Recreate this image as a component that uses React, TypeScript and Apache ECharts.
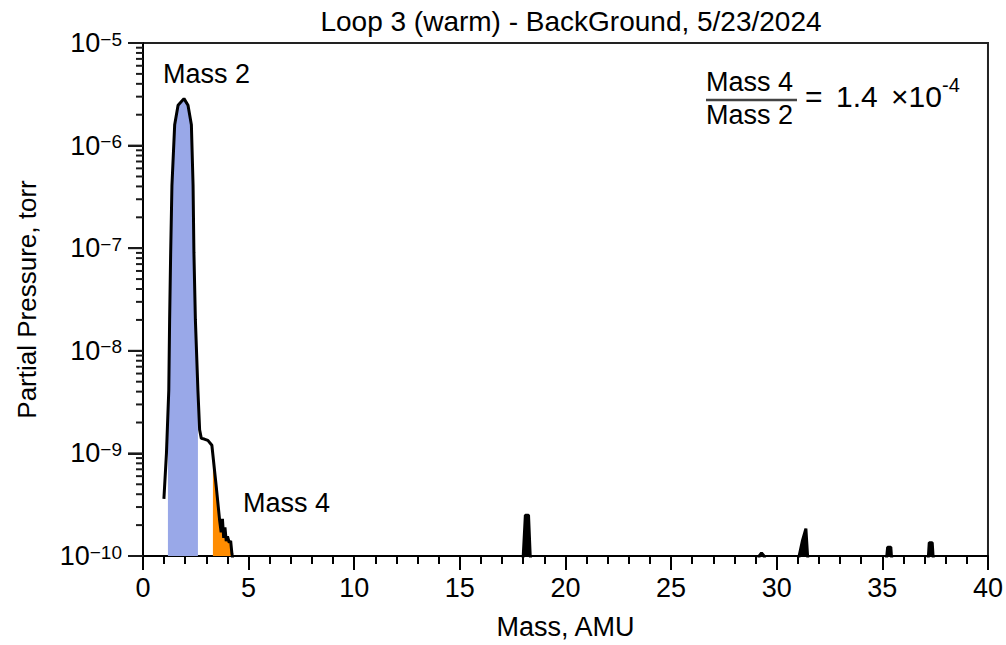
import React, { useEffect, useRef } from 'react';
import * as echarts from 'echarts';

const TITLE = 'Loop 3 (warm) - BackGround, 5/23/2024';
const X_NAME = 'Mass, AMU';
const Y_NAME = 'Partial Pressure, torr';

const X_MIN = 0;
const X_MAX = 40;
const X_STEP = 5;
const Y_MIN = 1e-10;
const Y_MAX = 1e-5;
const DECADES = [-10, -9, -8, -7, -6, -5];
const MINOR_MULTS = [2, 3, 4, 5, 6, 7, 8, 9];

// main Mass 2 / Mass 4 structure
const massMain = [0.99, 1.11, 1.22, 1.26, 1.31, 1.37, 1.5, 1.66, 1.94, 2.13, 2.29, 2.37, 2.41, 2.48, 2.6, 2.68, 2.76, 2.9, 3.07, 3.26, 3.47, 3.63, 3.7, 3.76, 3.82, 3.88, 3.94, 4.0, 4.08, 4.15, 4.21, 4.3];
const pressMain = [3.6e-10, 1.0e-9, 4.1e-9, 2.0e-8, 9.1e-8, 4.1e-7, 1.6e-6, 2.47e-6, 2.87e-6, 2.47e-6, 1.6e-6, 4.1e-7, 9.1e-8, 2.0e-8, 4.1e-9, 1.7e-9, 1.4e-9, 1.38e-9, 1.34e-9, 1.2e-9, 4.7e-10, 2.2e-10, 1.7e-10, 2.3e-10, 1.5e-10, 1.9e-10, 1.4e-10, 1.55e-10, 1.35e-10, 1.4e-10, 1.05e-10, 8e-11];

// small peaks at higher masses
const massPeaks = [4.3, 17.95, 18.0, 18.1, 18.25, 18.33, 18.4, 29.1, 29.17, 29.28, 29.4, 29.5, 31.0, 31.06, 31.22, 31.38, 31.46, 31.52, 35.15, 35.21, 35.25, 35.4, 35.43, 35.5, 37.12, 37.18, 37.22, 37.36, 37.4, 37.46, 40];
const pressPeaks = [8e-11, 8e-11, 1.0e-10, 2.5e-10, 2.5e-10, 1.0e-10, 8e-11, 8e-11, 1.0e-10, 1.07e-10, 1.0e-10, 8e-11, 8e-11, 1.0e-10, 1.42e-10, 1.85e-10, 1.0e-10, 8e-11, 8e-11, 1.0e-10, 1.22e-10, 1.22e-10, 1.0e-10, 8e-11, 8e-11, 1.0e-10, 1.35e-10, 1.35e-10, 1.0e-10, 8e-11, 8e-11];

// shaded Mass 2 integration region
const massBlue = [1.18, 1.22, 1.26, 1.31, 1.37, 1.5, 1.66, 1.94, 2.13, 2.29, 2.37, 2.41, 2.48, 2.6];
const pressBlue = [2.6e-9, 4.1e-9, 2.0e-8, 9.1e-8, 4.1e-7, 1.6e-6, 2.47e-6, 2.87e-6, 2.47e-6, 1.6e-6, 4.1e-7, 9.1e-8, 2.0e-8, 4.1e-9];

// shaded Mass 4 integration region
const massOrange = [3.31, 3.47, 3.63, 3.7, 3.76, 3.82, 3.88, 3.94, 4.0, 4.08, 4.15, 4.21];
const pressOrange = [1.0e-9, 4.7e-10, 2.2e-10, 1.7e-10, 2.3e-10, 1.5e-10, 1.9e-10, 1.4e-10, 1.55e-10, 1.35e-10, 1.4e-10, 1.05e-10];

const FONT = '"Liberation Sans", Arial, Helvetica, sans-serif';
const TICK_COLOR = '#1b1b1b';

const zip = (xs: number[], ys: number[]) => xs.map((x, i) => [x, ys[i]]);

// y ticks: decades (major) and 2..9 within each decade (minor)
const yMajorTicks: number[] = DECADES.map((e) => Math.pow(10, e));
const yMinorTicks: number[] = [];
DECADES.slice(0, -1).forEach((e) => MINOR_MULTS.forEach((m) => yMinorTicks.push(m * Math.pow(10, e))));

const supers = (v: number) => {
  const e = Math.round(Math.log10(v));
  return '{a|10}{b|' + (e < 0 ? '\u2212' + -e : String(e)) + '}';
};

export default function App() {
  const ref = useRef<HTMLDivElement>(null);
  useEffect(() => {
    const chart = echarts.init(ref.current!, null, { renderer: 'svg' });
    const option: any = {
      animation: false,
      backgroundColor: '#fff',
      textStyle: { fontFamily: FONT },
      title: {
        text: TITLE,
        left: 566,
        top: 2,
        textAlign: 'center',
        textStyle: { fontSize: 28, fontWeight: 'normal', color: '#000', fontFamily: FONT },
      },
      grid: { left: 143, right: 17, top: 43, bottom: 89, show: true, borderColor: '#222', borderWidth: 2 },
      xAxis: {
        type: 'value',
        min: X_MIN,
        max: X_MAX,
        interval: X_STEP,
        name: X_NAME,
        nameLocation: 'middle',
        nameGap: 57,
        nameTextStyle: { fontSize: 27, color: '#000', fontFamily: FONT },
        axisLine: { lineStyle: { color: '#000', width: 2 } },
        axisTick: { length: 14, lineStyle: { color: '#000', width: 2 } },
        minorTick: { show: true, splitNumber: 5, length: 8, lineStyle: { color: '#000', width: 2 } },
        axisLabel: { fontSize: 27, color: '#000', margin: 18, fontFamily: FONT },
        splitLine: { show: false },
      },
      yAxis: {
        type: 'log',
        logBase: 10,
        min: Y_MIN,
        max: Y_MAX,
        splitNumber: 5,
        name: Y_NAME,
        nameLocation: 'middle',
        nameGap: 103,
        nameTextStyle: { fontSize: 26, color: '#000', fontFamily: FONT },
        axisLine: { show: true, lineStyle: { color: '#000', width: 2 } },
        axisTick: { show: true, length: 15, lineStyle: { color: TICK_COLOR, width: 2 } },
        axisLabel: {
          margin: 21,
          formatter: supers,
          rich: {
            a: { fontSize: 27, color: '#000', fontFamily: FONT },
            b: { fontSize: 19, color: '#000', fontFamily: FONT, verticalAlign: 'top' },
          },
        },
        splitLine: { show: false },
      },
      series: [
        { type: 'line', data: zip(massBlue, pressBlue), symbol: 'none', lineStyle: { width: 0, opacity: 0 }, areaStyle: { color: '#99A8E8', opacity: 1, origin: 'start' }, z: 2, silent: true },
        { type: 'line', data: zip(massOrange, pressOrange), symbol: 'none', lineStyle: { width: 0, opacity: 0 }, areaStyle: { color: '#FF8C00', opacity: 1, origin: 'start' }, z: 2, silent: true },
        { type: 'line', data: zip(massPeaks, pressPeaks), symbol: 'none', lineStyle: { width: 0, opacity: 0 }, areaStyle: { color: '#000', opacity: 1, origin: 'start' }, z: 2, silent: true },
        { type: 'line', data: zip(massMain, pressMain).concat(zip(massPeaks, pressPeaks)), symbol: 'none', lineStyle: { color: '#000', width: 3 }, z: 5, silent: true },
      ],
      graphic: [
        { type: 'text', x: 163, y: 74, style: { text: 'Mass 2', fontSize: 27, fontFamily: FONT, fill: '#000', align: 'left', verticalAlign: 'middle' } },
        { type: 'text', x: 243, y: 503, style: { text: 'Mass 4', fontSize: 27, fontFamily: FONT, fill: '#000', align: 'left', verticalAlign: 'middle' } },
        { type: 'text', x: 706, y: 82, style: { text: 'Mass 4', fontSize: 27, fontFamily: FONT, fill: '#000', align: 'left', verticalAlign: 'middle' } },
        { type: 'line', shape: { x1: 706, y1: 100, x2: 797, y2: 100 }, style: { stroke: '#444', lineWidth: 2.5 } },
        { type: 'text', x: 706, y: 115, style: { text: 'Mass 2', fontSize: 27, fontFamily: FONT, fill: '#000', align: 'left', verticalAlign: 'middle' } },
        { type: 'text', x: 805, y: 96, style: { text: '=', fontSize: 30, fontFamily: FONT, fill: '#000', align: 'left', verticalAlign: 'middle' } },
        { type: 'text', x: 836, y: 96, style: { text: '1.4', fontSize: 30, fontFamily: FONT, fill: '#000', align: 'left', verticalAlign: 'middle' } },
        { type: 'text', x: 891, y: 96, style: { text: '\u00d710', fontSize: 30, fontFamily: FONT, fill: '#000', align: 'left', verticalAlign: 'middle' } },
        { type: 'text', x: 942, y: 85, style: { text: '-4', fontSize: 20, fontFamily: FONT, fill: '#000', align: 'left', verticalAlign: 'middle' } },
      ],
    };
    chart.setOption(option);

    // y-axis ticks as small filled bars, placed through the chart's own log scale
    const tick = (v: number, len: number) => {
      const p = chart.convertToPixel({ gridIndex: 0 }, [X_MIN, v]) as number[];
      return {
        type: 'rect',
        z: 100,
        shape: { x: p[0] - len, y: p[1] - 1, width: len, height: 2 },
        style: { fill: TICK_COLOR, stroke: 'none' },
      };
    };
    const tickEls = yMinorTicks.map((v) => tick(v, 7)).concat(yMajorTicks.map((v) => tick(v, 15)));
    chart.setOption({ graphic: option.graphic.concat(tickEls) });
    return () => chart.dispose();
  }, []);
  return <div ref={ref} style={{ position: 'fixed', left: 0, top: 0, width: 1006, height: 645, background: '#fff' }} />;
}
